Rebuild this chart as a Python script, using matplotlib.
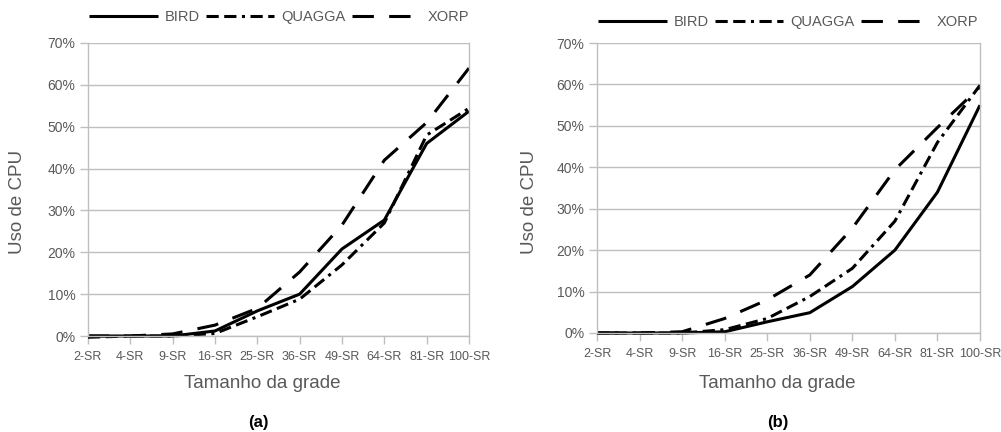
import matplotlib
matplotlib.use("Agg")
import matplotlib.pyplot as plt
from matplotlib.ticker import FuncFormatter

plt.rcParams['font.family'] = ['Liberation Sans', 'DejaVu Sans']

categories = ["2-SR", "4-SR", "9-SR", "16-SR", "25-SR", "36-SR", "49-SR", "64-SR", "81-SR", "100-SR"]

# Panel (a)
bird_a = [0.0, 0.0, 0.0, 1.2, 6.0, 10.0, 20.8, 27.7, 46.0, 53.7]
quagga_a = [-0.3, 0.0, 0.0, 0.6, 4.6, 8.8, 17.0, 27.0, 48.0, 54.4]
xorp_a = [0.0, 0.0, 0.5, 2.6, 6.6, 15.3, 26.5, 42.0, 51.0, 64.0]

# Panel (b)
bird_b = [0.0, 0.0, 0.0, 0.3, 2.7, 4.9, 11.2, 20.0, 34.0, 55.0]
quagga_b = [0.0, 0.0, 0.0, 0.8, 3.5, 8.8, 15.6, 27.0, 46.0, 59.8]
xorp_b = [0.0, 0.0, 0.3, 3.5, 8.0, 14.0, 25.3, 39.4, 49.6, 59.4]

series_names = ["BIRD", "QUAGGA", "XORP"]

GRAY = "#595959"
GRID = "#bfbfbf"

W, H = 1001, 432
fig = plt.figure(figsize=(W / 100, H / 100), dpi=100)

def px_axes(left, top, right, bottom):
    return fig.add_axes([left / W, 1 - bottom / H, (right - left) / W, (bottom - top) / H])

styles = [
    dict(linestyle="-"),
    dict(linestyle=(0, (4, 1.8, 4, 1.8, 1, 1.8))),
    dict(linestyle=(0, (7, 5))),
]

def draw(ax, data, xlabel_x, ylabel_x, sub_x, sub_label):
    x = range(len(categories))
    handles = []
    for name, vals, st in zip(series_names, data, styles):
        h, = ax.plot(x, vals, color="black", linewidth=2.2, clip_on=False,
                     solid_capstyle="butt", dash_capstyle="butt", label=name, **st)
        handles.append(h)
    ax.set_xlim(0, len(categories) - 1)
    ax.set_ylim(0, 70)
    ax.set_yticks(range(0, 71, 10))
    ax.yaxis.set_major_formatter(FuncFormatter(lambda v, p: f"{int(v)}%"))
    ax.set_xticks(list(x))
    ax.set_xticklabels(categories)
    ax.grid(axis="y", color=GRID, linewidth=1)
    ax.set_axisbelow(True)
    for s in ["left", "bottom", "right"]:
        ax.spines[s].set_color(GRID)
        ax.spines[s].set_linewidth(1)
    ax.spines["top"].set_visible(False)
    ax.tick_params(axis="both", colors=GRID, labelcolor=GRAY, length=6, width=1, pad=3)
    ax.tick_params(axis="y", labelsize=10)
    ax.tick_params(axis="x", labelsize=9, pad=5)
    fig.text(xlabel_x / W, 1 - 383 / H, "Tamanho da grade", ha="center", va="center",
             fontsize=13.5, color=GRAY)
    fig.text(ylabel_x / W, 1 - 202 / H, "Uso de CPU", ha="center", va="center",
             rotation=90, fontsize=13.5, color=GRAY)
    fig.text(sub_x / W, 1 - 423 / H, sub_label, ha="center", va="center",
             fontsize=12, fontweight="bold", color="black")
    leg = ax.legend(handles=handles, loc="center", ncol=3, frameon=False,
                    fontsize=10.5, handlelength=4.7, handletextpad=0.5, columnspacing=0.4,
                    labelcolor=GRAY)
    return leg

ax_a = px_axes(88, 43, 469, 336)
leg_a = draw(ax_a, [bird_a, quagga_a, xorp_a], 262, 18, 258, "(a)")
leg_a.set_bbox_to_anchor((279 / W, 1 - 17 / H), transform=fig.transFigure)

ax_b = px_axes(597, 43, 980, 333)
leg_b = draw(ax_b, [bird_b, quagga_b, xorp_b], 777, 530, 778, "(b)")
leg_b.set_bbox_to_anchor((788 / W, 1 - 22 / H), transform=fig.transFigure)

fig.savefig("out.png", dpi=100, facecolor="white")
